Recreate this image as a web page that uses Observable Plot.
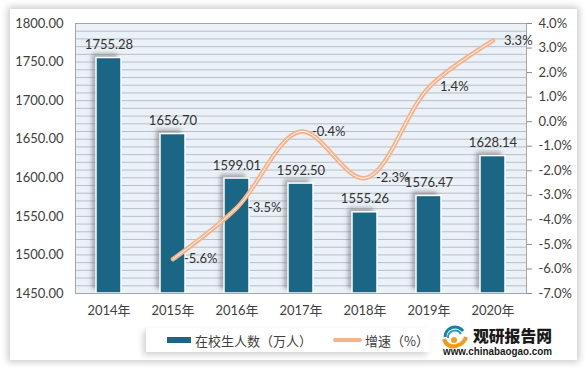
<!DOCTYPE html>
<html>
<head>
<meta charset="utf-8">
<script src="https://cdn.jsdelivr.net/npm/d3@7"></script>
<script src="https://cdn.jsdelivr.net/npm/@observablehq/plot@0.6"></script>
<style>
  html, body { margin: 0; padding: 0; background: #ffffff; }
  #wrap { position: relative; width: 588px; height: 370px; overflow: hidden; font-family: Lato, "Noto Sans CJK SC", sans-serif; }
  #card { position: absolute; left: 10px; top: 9px; width: 567px; height: 351px; background: #fff; box-shadow: 0 0 7px 2px rgba(0,0,0,0.22); }
  #chart { position: absolute; left: 0; top: 0; }
  #legend { position: absolute; left: 146px; top: 328px; width: 284px; height: 24px; background: #fff; box-shadow: -3px 3px 6px rgba(0,0,0,0.18); font-size: 13px; color: #404040; }
  .sw { position: absolute; }
  .lt { position: absolute; top: 3px; white-space: nowrap; font-family: "Noto Sans CJK SC", sans-serif; }
  #logo { position: absolute; left: 441px; top: 324px; width: 122px; height: 40px; }
</style>
</head>
<body>
<div id="wrap">
  <div id="card"></div>
  <div id="chart"></div>
  <div id="legend">
    <div class="sw" style="left:21px;top:9px;width:24px;height:6px;background:#1A6685;"></div>
    <div class="lt" style="left:49px;">在校生人数（万人）</div>
    <div class="sw" style="left:187px;top:10px;width:29px;height:4px;background:#F6B28A;border-radius:2px;"></div>
    <div class="lt" style="left:219px;">增速（%）</div>
  </div>
  <div id="logo">
    <svg width="122" height="40" viewBox="0 0 122 40">
      <path d="M4 13 A10 10 0 0 1 22 7" fill="none" stroke="#1A7FA8" stroke-width="3"/>
      <path d="M7 14 A7 7 0 0 1 20 10" fill="none" stroke="#2A9BC4" stroke-width="2"/>
      <path d="M3 15 Q6 24 15 22 Q23 20 25 13" fill="none" stroke="#F29B1D" stroke-width="4"/>
      <circle cx="13" cy="16" r="3" fill="#F29B1D"/>
      <text x="32" y="18" font-family="'Noto Sans CJK SC', sans-serif" font-weight="900" font-size="16" textLength="79" lengthAdjust="spacingAndGlyphs" fill="#1a1a1a">观研报告网</text>
      <text x="2" y="31" font-family="'Liberation Sans', sans-serif" font-weight="bold" font-size="10" textLength="109" lengthAdjust="spacingAndGlyphs" fill="#1a1a1a">www.chinabaogao.com</text>
    </svg>
  </div>
</div>
<script>
const years = ["2014年", "2015年", "2016年", "2017年", "2018年", "2019年", "2020年"];
const students = [1755.28, 1656.70, 1599.01, 1592.50, 1555.26, 1576.47, 1628.14];
const growthYears = ["2015年", "2016年", "2017年", "2018年", "2019年", "2020年"];
const growth = [-5.6, -3.5, -0.4, -2.3, 1.4, 3.3];
const leftTicks = [1450, 1500, 1550, 1600, 1650, 1700, 1750, 1800];
const rightTicks = [-7, -6, -5, -4, -3, -2, -1, 0, 1, 2, 3, 4];
const gridTicks = d3.range(1450, 1801, 10);

const bars = years.map((y, i) => ({year: y, value: students[i]}));
const rates = growthYears.map((y, i) => ({year: y, rate: growth[i]}));

// map percent (right axis, -7..4) onto left axis units (1450..1800)
const toLeft = p => 1450 + (p + 7) * 350 / 11;
const fromLeft = v => { const p = Math.round(((v - 1450) * 11 / 350 - 7) * 10) / 10; return p === 0 ? 0 : p; };

const font = "Lato, 'Noto Sans CJK SC', sans-serif";
const txt = "#404040";

const plot = Plot.plot({
  width: 588,
  height: 370,
  marginLeft: 75,
  marginRight: 62,
  marginTop: 23,
  marginBottom: 77,
  style: {background: "transparent", fontFamily: font, fontSize: "13px", color: txt},
  x: {domain: years, paddingInner: 0.61, paddingOuter: 0.305, label: null},
  y: {domain: [1450, 1800], label: null},
  marks: [
    Plot.frame({fill: "#EAF1F8", stroke: null}),
    Plot.gridY(gridTicks, {stroke: "#9C9C9C", strokeOpacity: 0.6, strokeWidth: 1}),
    Plot.barY(bars, {x: "year", y1: 1450, y2: "value", dx: -4, dy: -4, fill: "#6E6E6E", fillOpacity: 0.55}),
    Plot.barY(bars, {x: "year", y1: 1450, y2: "value", fill: "#1A6685", stroke: "#ffffff", strokeWidth: 1.5}),
    Plot.frame({stroke: "#A6A6A6"}),
    Plot.axisY(leftTicks, {anchor: "left", tickSize: 0, tickPadding: 12, tickFormat: d => d.toFixed(2), fontSize: 13, fill: txt, label: null}),
    Plot.axisY(rightTicks.map(toLeft), {anchor: "right", tickSize: 5, tickPadding: 7, stroke: "#8C8C8C", tickFormat: v => fromLeft(v).toFixed(1) + "%", fontSize: 13, fill: txt, label: null}),
    Plot.axisX({tickSize: 0, tickPadding: 12, fontSize: 13, fill: txt, label: null}),
    Plot.line(rates, {x: "year", y: d => toLeft(d.rate), curve: "catmull-rom", stroke: "#F6B28A", strokeWidth: 4.5}),
    Plot.line(rates, {x: "year", y: d => toLeft(d.rate), curve: "catmull-rom", stroke: "#ffffff", strokeWidth: 1, strokeOpacity: 0.9}),
    Plot.text(bars, {x: "year", y: "value", text: d => d.value.toFixed(2), dy: -13, fill: "#333", fontSize: 13}),
    Plot.text(rates, {x: "year", y: d => toLeft(d.rate), text: d => d.rate.toFixed(1) + "%", textAnchor: "start", dx: 11, fill: "#333", fontSize: 13})
  ]
});

// soft blur for the bar shadows
const svg = d3.select(plot);
const defs = svg.insert("defs", ":first-child");
defs.append("filter").attr("id", "bshadow").attr("x", "-50%").attr("y", "-50%").attr("width", "200%").attr("height", "200%")
  .append("feGaussianBlur").attr("stdDeviation", 2);
const barGroups = svg.selectAll("g[aria-label='bar']").nodes();
if (barGroups.length) d3.select(barGroups[0]).attr("filter", "url(#bshadow)");

document.getElementById("chart").appendChild(plot);
</script>
</body>
</html>
